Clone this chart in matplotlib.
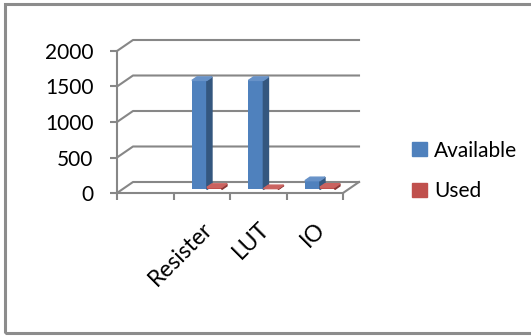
import numpy as np
import matplotlib.pyplot as plt
from matplotlib.patches import Polygon, Patch, Rectangle

plt.rcParams['font.family'] = ['Lato', 'DejaVu Sans']

categories = ['Resister', 'LUT', 'IO']
available = [1536, 1536, 124]
used = [30, 12, 32]
y_ticks = [0, 500, 1000, 1500, 2000]

W, H = 531, 336
GRID = '#878787'
BLUE = ('#4F81BD', '#34577F', '#6792C8')   # front, side, top
RED = ('#C0504D', '#8A3836', '#CB6360')

fig = plt.figure(figsize=(W / 100, H / 100), dpi=100)
ax = fig.add_axes([117 / W, (H - 193) / H, 226 / W, 142 / H])
ax.set_xlim(-1.5, 2.5)
ax.set_ylim(0, 2000)
ax.patch.set_visible(False)

# depth of the box in pixels, turned into data units
to_data = ax.transData.inverted()
p0 = to_data.transform((0, 0))
p1 = to_data.transform((16, 11))
dx, dy = p1 - p0

x0, x1 = ax.get_xlim()

# back wall grid lines with their diagonal on the side wall
for v in y_ticks:
    ax.plot([x0, x0 + dx, x1 + dx], [v, v + dy, v + dy], color=GRID, lw=1.5,
            clip_on=False, zorder=1)
# right edge of the floor
ax.plot([x1, x1 + dx], [0, dy], color=GRID, lw=1.5, clip_on=False, zorder=1)

# axes lines and ticks
for side in ['top', 'right']:
    ax.spines[side].set_visible(False)
for side in ['left', 'bottom']:
    ax.spines[side].set_color(GRID)
    ax.spines[side].set_linewidth(1.5)

ax.set_yticks(y_ticks)
ax.set_yticklabels([str(v) for v in y_ticks])
ax.tick_params(axis='y', direction='out', length=5, width=1.5, color=GRID,
               pad=12, labelsize=15)

ax.set_xticks(np.arange(x0, x1 + 0.5, 1.0))
ax.set_xticklabels([])
ax.tick_params(axis='x', which='major', direction='out', length=5, width=1.5, color=GRID)
ax.set_xticks(np.arange(len(categories)), minor=True)
ax.set_xticklabels(categories, minor=True, rotation=45, ha='right',
                   rotation_mode='anchor', fontsize=16.5)
ax.tick_params(axis='x', which='minor', length=0, pad=18)

# 3D columns
f0, f1 = 0.32, 0.64
w = 0.265
fx0, fy0 = f0 * dx, f0 * dy
fx1, fy1 = f1 * dx, f1 * dy


def column(xl, h, colors):
    xr = xl + w
    front, side, top = colors
    ax.bar(xl + fx0, h, w, bottom=fy0, align='edge', color=front,
           clip_on=False, zorder=3)
    ax.add_patch(Polygon([(xr + fx0, fy0), (xr + fx1, fy1), (xr + fx1, h + fy1),
                          (xr + fx0, h + fy0)], closed=True, color=side,
                         clip_on=False, zorder=3))
    ax.add_patch(Polygon([(xl + fx0, h + fy0), (xr + fx0, h + fy0),
                          (xr + fx1, h + fy1), (xl + fx1, h + fy1)], closed=True,
                         color=top, clip_on=False, zorder=3))


for i in range(len(categories)):
    column(i - w, available[i], BLUE)
    column(i, used[i], RED)

handles = [Patch(color=BLUE[0], label='Available'), Patch(color=RED[0], label='Used')]
fig.legend(handles=handles, loc='center left', bbox_to_anchor=(404 / W, 1 - 171 / H),
           frameon=False, fontsize=15, handlelength=0.68, handleheight=0.68,
           handletextpad=0.38, labelspacing=1.0, borderaxespad=0)

# chart border
fig.add_artist(Rectangle((5 / W, 3 / H), 1.0, (H - 7) / H, transform=fig.transFigure,
                         fill=False, ec='#8C8C8C', lw=2.2))

fig.savefig('out.png', dpi=100)
